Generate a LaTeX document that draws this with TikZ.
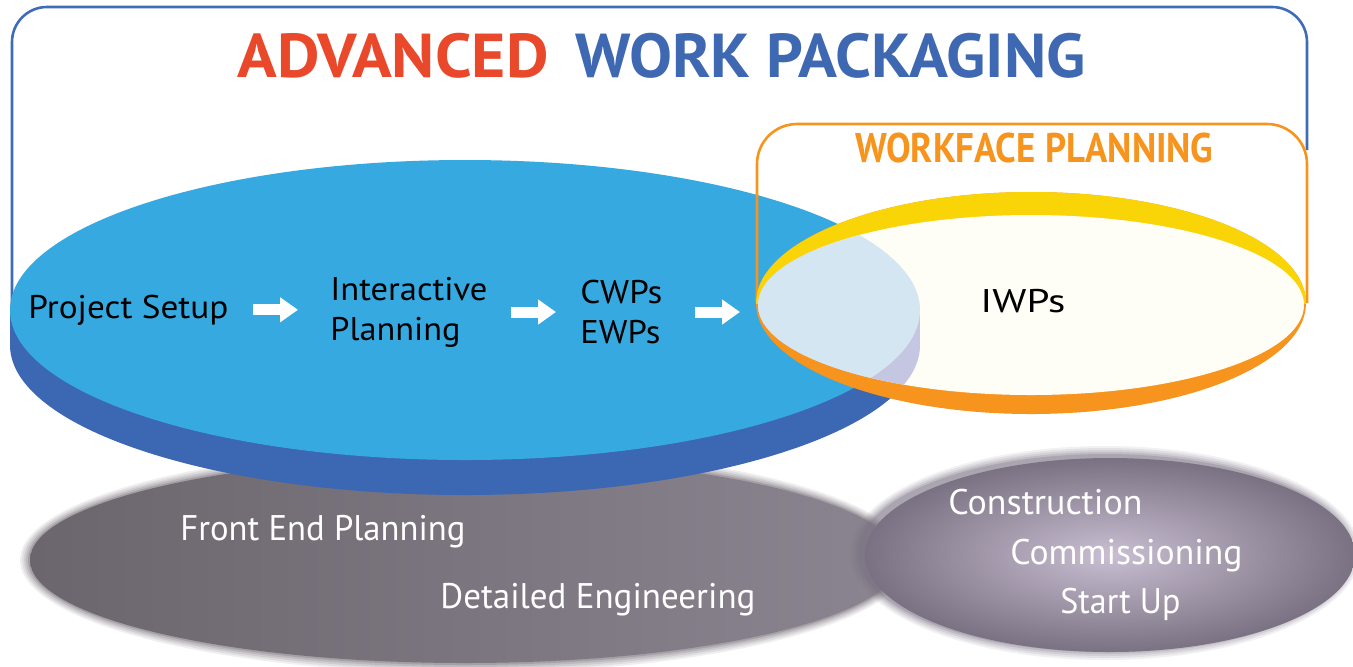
\documentclass[tikz,border=0pt]{standalone}
\usepackage{fontspec}
\usepackage{graphicx}
\setmainfont{PT Sans}
\usetikzlibrary{arrows.meta}
\definecolor{bluetop}{HTML}{37A9E1}
\definecolor{bluedark}{HTML}{3B67B3}
\definecolor{rectblue}{HTML}{3F6CB8}
\definecolor{titlered}{HTML}{E9492A}
\definecolor{titleblue}{HTML}{3E69B2}
\definecolor{ringorange}{HTML}{F7941D}
\definecolor{ringyellow}{HTML}{F9D406}
\definecolor{cream}{HTML}{FEFDF6}
\definecolor{lightblue}{HTML}{D5E6F3}
\definecolor{lavender}{HTML}{C4C6E2}
\definecolor{greyA}{HTML}{6B656D}
\definecolor{greyB}{HTML}{8B8591}
\definecolor{greyC}{HTML}{C9BED2}
\definecolor{greyD}{HTML}{7A7282}
\newcommand{\fw}[2]{\resizebox{#1}{\height}{#2}}
\tikzset{
  lbl/.style={inner sep=0pt, font=\fontsize{16.4}{20}\selectfont, text=black},
  glbl/.style={inner sep=0pt, anchor=base west, font=\fontsize{17.8}{20}\selectfont, text=white},
  blk/.style={draw=white, line width=5.5pt, -{Triangle[width=12pt,length=9pt]}},
}
\begin{document}
\begin{tikzpicture}[x=0.5pt,y=-0.5pt]
\useasboundingbox (0,0) rectangle (1353,666);
\fill[white] (0,0) rectangle (1353,666);

% grey ellipses (soft edges)
\foreach \k/\o in {10/0.1,8/0.12,6/0.15,4/0.2,2/0.3}{
  \pgfmathsetmacro\rx{435+\k}\pgfmathsetmacro\ry{103+\k}
  \fill[greyA!80!greyB,opacity=\o] (465,560) ellipse [x radius=\rx, y radius=\ry];
}
\shade[left color=greyA, right color=greyB] (465,560) ellipse [x radius=435, y radius=103];
\foreach \k/\o in {10/0.1,8/0.12,6/0.15,4/0.2,2/0.3}{
  \pgfmathsetmacro\rx{245+\k}\pgfmathsetmacro\ry{97+\k}
  \fill[greyD,opacity=\o] (1105,553) ellipse [x radius=\rx, y radius=\ry];
}
\shade[inner color=greyC, outer color=greyD] (1110,555) ellipse [x radius=245, y radius=97];

% outer blue frame
\draw[rectblue, line width=1.3pt, rounded corners=17.5pt] (12,335) -- (12,7) -- (1307,7) -- (1307,150);

% blue disc
\fill[bluedark] (465,345) ellipse [x radius=455, y radius=150];
\fill[bluedark] (10,310) rectangle (920,345);
\fill[bluetop] (465,310) ellipse [x radius=455, y radius=150];

% workface frame
\draw[ringorange, line width=1.3pt, rounded corners=20pt] (757,303) -- (757,124) -- (1307,124) -- (1307,303);

% ring disc
\fill[ringorange] (1031,303) ellipse [x radius=275, y radius=111];
\begin{scope}
  \clip (700,303) rectangle (1353,150);
  \fill[ringyellow] (1031,303) ellipse [x radius=275, y radius=111];
\end{scope}
\fill[cream] (1031,305) ellipse [x radius=273, y radius=90];
\begin{scope}
  \clip (1031,305) ellipse [x radius=273, y radius=90];
  \fill[lavender] (465,345) ellipse [x radius=455, y radius=150];
  \fill[lavender] (10,310) rectangle (920,345);
  \fill[lightblue] (465,310) ellipse [x radius=455, y radius=150];
\end{scope}
\coordinate (ringL) at (757,303);

% titles
\node[anchor=base west, inner sep=0pt, text=titlered, font=\fontsize{31}{31}\selectfont\bfseries] (adv) at (237,77) {\fw{155.5pt}{ADVANCED}};
\node[anchor=base west, inner sep=0pt, text=titleblue, font=\fontsize{31}{31}\selectfont\bfseries] (wpk) at (575,77) {\fw{255pt}{WORK PACKAGING}};
\node[anchor=base west, inner sep=0pt, text=ringorange, font=\fontsize{20.7}{21}\selectfont\bfseries] (wfp) at (855,162) {\fw{179pt}{WORKFACE PLANNING}};

% disc labels
\node[lbl, anchor=base west] (ps) at (28,318) {\fw{100pt}{Project Setup}};
\node[lbl, anchor=west, align=left] (ip) at (330,312) {\fw{78.5pt}{Interactive}\\\fw{65pt}{Planning}};
\node[lbl, anchor=west, align=left] (cw) at (580,312) {\fw{41pt}{CWPs}\\\fw{40pt}{EWPs}};
\node[lbl, anchor=base west] (iw) at (980,312) {\fw{42.5pt}{IWPs}};

% arrows
\draw[blk, shorten <=12pt, shorten >=16pt] (ps.east) -- (ps.east -| ip.west);
\draw[blk, shorten <=11.5pt, shorten >=12pt] (ip.east) -- (ip.east -| cw.west);
\draw[blk, shorten <=16pt, shorten >=8.5pt] (cw.east) -- (cw.east -| ringL);

% grey labels
\node[glbl] (fep) at (180,540) {\fw{142.5pt}{Front End Planning}};
\node[glbl] (de) at (440,608) {\fw{157.5pt}{Detailed Engineering}};
\node[glbl] (con) at (948,514) {\fw{97pt}{Construction}};
\node[glbl] (com) at (1010,564) {\fw{116pt}{Commissioning}};
\node[glbl] (su) at (1060,613) {\fw{60pt}{Start Up}};
\end{tikzpicture}
\end{document}
